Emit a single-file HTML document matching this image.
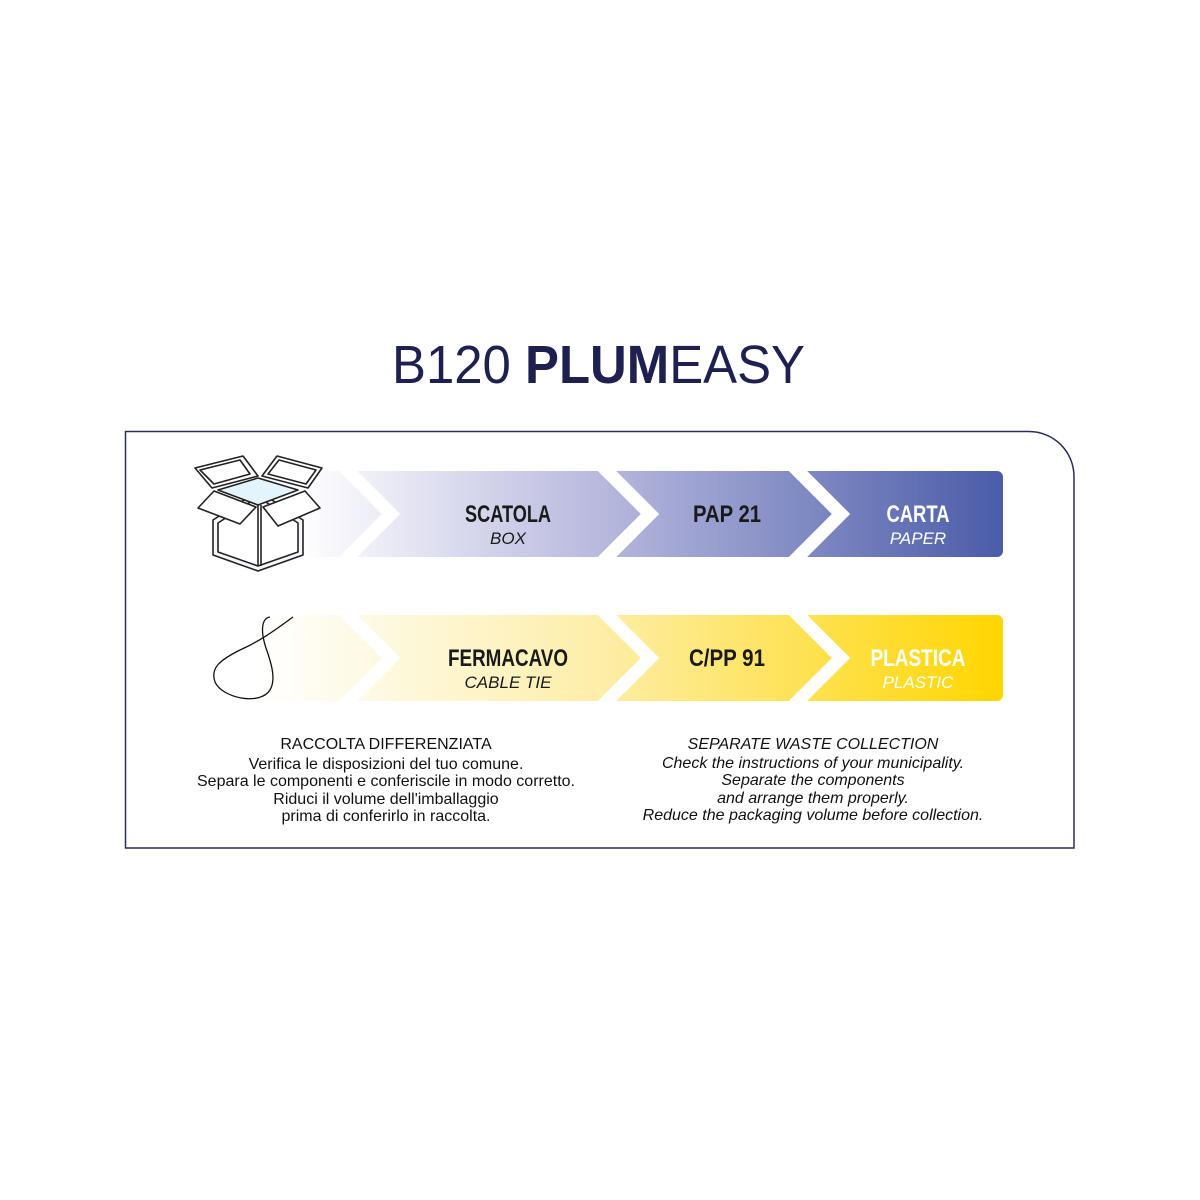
<!DOCTYPE html>
<html><head><meta charset="utf-8"><style>
html,body{margin:0;padding:0;background:#fff;}
svg{display:block}
.b{font-family:"Liberation Sans",sans-serif;font-weight:bold;font-size:24px;text-anchor:middle}
.i{font-family:"Liberation Sans",sans-serif;font-style:italic;font-size:17px;text-anchor:middle}
.t{font-family:"Liberation Sans",sans-serif;font-size:16px;text-anchor:middle;fill:#111}
</style></head><body>
<svg width="1200" height="1200" viewBox="0 0 1200 1200" xmlns="http://www.w3.org/2000/svg">
<defs>
<linearGradient id="gb" x1="300" x2="1003" y1="0" y2="0" gradientUnits="userSpaceOnUse">
<stop offset="0" stop-color="#ffffff"/><stop offset="0.4" stop-color="#bcbde0"/><stop offset="1" stop-color="#4a5ca8"/></linearGradient>
<linearGradient id="gy" x1="260" x2="1003" y1="0" y2="0" gradientUnits="userSpaceOnUse">
<stop offset="0" stop-color="#ffffff"/><stop offset="0.45" stop-color="#fdeeaa"/><stop offset="1" stop-color="#ffd600"/></linearGradient>
</defs>
<text x="392" y="383" textLength="413" lengthAdjust="spacingAndGlyphs" font-family="Liberation Sans,sans-serif" font-size="54" fill="#1e2050"><tspan>B120 </tspan><tspan font-weight="bold">PLUM</tspan><tspan>EASY</tspan></text>
<path d="M125.5 431.5 H1029 A45 45 0 0 1 1074 476.5 V848 H125.5 Z" fill="none" stroke="#2b2d5e" stroke-width="1.5"/>
<path d="M260 471 H997 A6 6 0 0 1 1003 477 V551 A6 6 0 0 1 997 557 H260 Z" fill="url(#gb)"/>
<path d="M230 615 H997 A6 6 0 0 1 1003 621 V695 A6 6 0 0 1 997 701 H230 Z" fill="url(#gy)"/>
<g fill="none" stroke="#fff" stroke-width="13">
<polyline points="343,466 391,514 343,562"/><polyline points="602,466 650,514 602,562"/><polyline points="793,466 841,514 793,562"/>
<polyline points="343,610 391,658 343,706"/><polyline points="602,610 650,658 602,706"/><polyline points="793,610 841,658 793,706"/>
</g>
<!-- box icon -->
<g stroke="#222" stroke-width="1.6" fill="#fff" stroke-linejoin="round">
<path d="M213 520 L258 491 L303 520 L303 555 L258 571 L213 555 Z" fill="#f6f6fb"/>
<path d="M218 523 L258 497 L298 523 L298 552 L258 566 L218 552 Z"/>
<line x1="258" y1="505" x2="258" y2="566"/><line x1="261" y1="505" x2="261" y2="566"/>
<path d="M218 490 L258 478 L298 490 L258 505 Z" fill="#e4f4fd"/>
<path d="M195 468 L243 456 L258 476 L212 488 Z"/>
<path d="M200 470 L240 460 L250 474 L214 484 Z" fill="none"/>
<path d="M262 476 L277 456 L322 468 L308 488 Z"/>
<path d="M268 474 L279 460 L316 470 L306 484 Z" fill="none"/>
<path d="M198 508 L214 491 L256 507 L240 524 Z"/>
<path d="M263 507 L305 491 L320 508 L278 526 Z"/>
</g>
<!-- cable tie -->
<path d="M293 617 C275 630 262 640 240 650 C220 660 210 668 215 682 C222 698 260 706 270 690 C276 680 272 665 266 648 C260 630 262 618 270 617" fill="none" stroke="#111" stroke-width="1.3"/>
<text class="b" x="508" y="522" textLength="86" lengthAdjust="spacingAndGlyphs" fill="#1a1a1a">SCATOLA</text><text class="i" x="508" y="544" fill="#1a1a1a">BOX</text>
<text class="b" x="727" y="522" textLength="68" lengthAdjust="spacingAndGlyphs" fill="#1a1a1a">PAP 21</text>
<text class="b" x="918" y="522" textLength="63" lengthAdjust="spacingAndGlyphs" fill="#fff">CARTA</text><text class="i" x="918" y="544" fill="#fff">PAPER</text>
<text class="b" x="508" y="666" textLength="120" lengthAdjust="spacingAndGlyphs" fill="#1a1a1a">FERMACAVO</text><text class="i" x="508" y="688" fill="#1a1a1a">CABLE TIE</text>
<text class="b" x="727" y="666" textLength="76" lengthAdjust="spacingAndGlyphs" fill="#1a1a1a">C/PP 91</text>
<text class="b" x="918" y="666" textLength="95" lengthAdjust="spacingAndGlyphs" fill="#fff">PLASTICA</text><text class="i" x="918" y="688" fill="#fff">PLASTIC</text>
<text class="t" x="386" y="749" font-size="18.5">RACCOLTA DIFFERENZIATA</text>
<text class="t" x="386" y="769">Verifica le disposizioni del tuo comune.</text>
<text class="t" x="386" y="786">Separa le componenti e conferiscile in modo corretto.</text>
<text class="t" x="386" y="804">Riduci il volume dell'imballaggio</text>
<text class="t" x="386" y="821">prima di conferirlo in raccolta.</text>
<g font-style="italic">
<text class="t" x="813" y="749" font-size="18.5">SEPARATE WASTE COLLECTION</text>
<text class="t" x="813" y="768">Check the instructions of your municipality.</text>
<text class="t" x="813" y="785">Separate the components</text>
<text class="t" x="813" y="803">and arrange them properly.</text>
<text class="t" x="813" y="820">Reduce the packaging volume before collection.</text>
</g>
</svg>
</body></html>
